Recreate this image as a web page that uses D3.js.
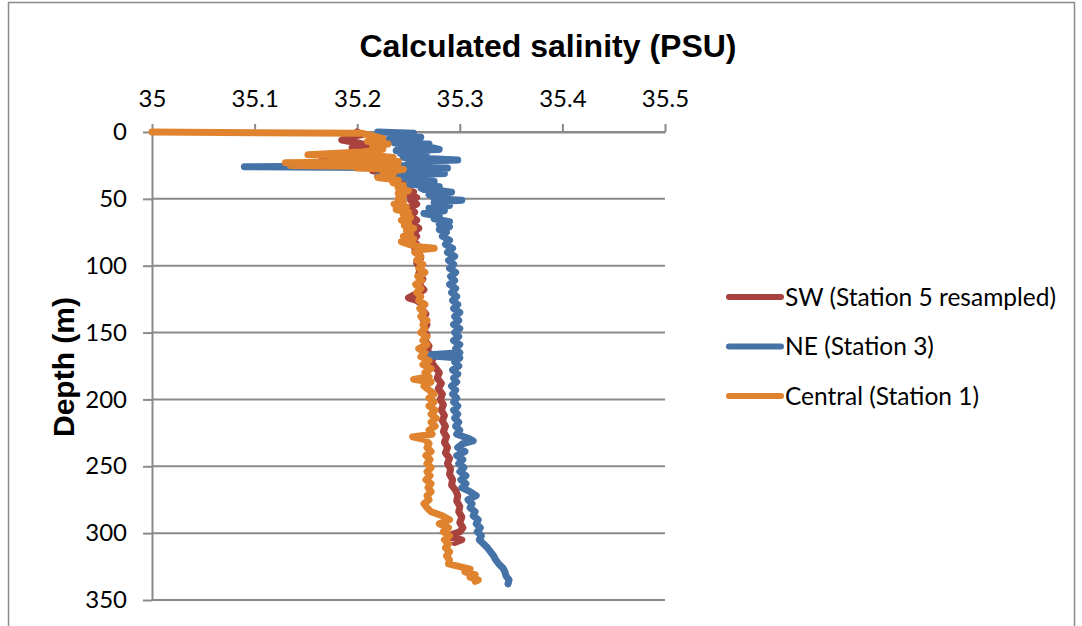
<!DOCTYPE html>
<html>
<head>
<meta charset="utf-8">
<script src="https://cdn.jsdelivr.net/npm/d3@7"></script>
<style>
  html, body { margin: 0; padding: 0; background: #fff; }
  svg { display: block; }
</style>
</head>
<body>
<svg id="chart" width="1082" height="626"></svg>
<script>
// Salinity profiles: depth (m) and calculated salinity (PSU) per station
const swDepth = [0,2,4,6,8,10,12,14,16,18,19,21,23,25,27,29,31,33,35,37,39,41,43,45,47,49,51,54,57,60,63,66,69,72,75,78,81,84,87,90,94,98,102,106,110,114,118,122,124,126,129,132,136,140,144,148,152,156,160,164,168,172,176,180,184,188,192,196,200,204,208,212,216,220,224,228,232,236,240,244,248,252,256,260,264,268,272,276,280,284,288,292,296,299,301,303,305,307];
const swSal = [35.200,35.205,35.190,35.185,35.200,35.210,35.195,35.215,35.200,35.165,35.210,35.220,35.205,35.225,35.230,35.215,35.235,35.240,35.232,35.245,35.240,35.250,35.245,35.255,35.250,35.258,35.252,35.258,35.250,35.256,35.252,35.258,35.254,35.260,35.255,35.258,35.254,35.258,35.256,35.260,35.262,35.258,35.262,35.260,35.264,35.260,35.265,35.255,35.250,35.258,35.264,35.262,35.267,35.264,35.268,35.265,35.268,35.266,35.270,35.268,35.275,35.272,35.276,35.280,35.278,35.282,35.279,35.283,35.281,35.284,35.282,35.285,35.283,35.286,35.284,35.287,35.285,35.288,35.286,35.290,35.288,35.291,35.290,35.293,35.292,35.296,35.298,35.297,35.300,35.299,35.302,35.300,35.303,35.300,35.292,35.290,35.302,35.295];

const neDepth = [0,1,2,3,4,5,6,7,8,9,10,11,12,13,14,15,16,17,18,19,20,21,22,23,24,25,26,27,28,29,30,31,32,33,34,35,36,37,38,39,40,41,42,43,44,45,46,47,48,49,50,51,52,53,55,57,59,61,63,65,67,69,71,73,75,78,81,84,87,90,93,96,99,102,105,108,111,114,117,120,123,126,129,132,135,138,141,144,147,150,153,156,159,162,165,167,169,172,175,178,181,184,187,190,193,196,199,202,205,208,211,214,217,220,223,226,229,231,233,236,239,242,245,248,251,254,257,260,263,266,269,272,275,278,281,284,287,290,293,296,299,302,305,308,311,314,317,320,323,326,329,332,335,338];
const neSal = [35.220,35.255,35.232,35.240,35.262,35.245,35.228,35.258,35.236,35.270,35.250,35.240,35.275,35.280,35.238,35.268,35.242,35.265,35.250,35.245,35.272,35.298,35.255,35.250,35.262,35.260,35.090,35.288,35.248,35.235,35.262,35.285,35.255,35.220,35.245,35.260,35.268,35.275,35.258,35.250,35.270,35.280,35.262,35.265,35.282,35.292,35.272,35.270,35.288,35.285,35.275,35.302,35.282,35.275,35.290,35.270,35.285,35.265,35.280,35.275,35.290,35.280,35.290,35.280,35.287,35.283,35.290,35.286,35.293,35.288,35.295,35.289,35.294,35.290,35.296,35.291,35.295,35.290,35.296,35.292,35.297,35.293,35.298,35.294,35.300,35.295,35.299,35.294,35.300,35.295,35.299,35.294,35.300,35.296,35.300,35.264,35.300,35.295,35.299,35.293,35.298,35.294,35.297,35.292,35.296,35.293,35.297,35.294,35.298,35.294,35.298,35.295,35.299,35.296,35.300,35.297,35.308,35.313,35.303,35.298,35.305,35.297,35.303,35.299,35.304,35.300,35.306,35.301,35.306,35.302,35.310,35.316,35.308,35.312,35.310,35.315,35.313,35.318,35.316,35.320,35.317,35.321,35.319,35.323,35.327,35.330,35.333,35.335,35.338,35.342,35.344,35.345,35.348,35.347];

const ctDepth = [0,1,3,5,7,9,11,13,15,17,18,19,20,22,23,24,25,26,27,28,30,32,34,36,38,40,42,44,46,48,50,52,54,56,58,60,62,64,66,68,70,72,74,76,78,80,82,84,86,87,88,90,93,96,99,102,105,108,111,114,117,120,123,126,129,132,135,138,141,144,147,150,153,156,159,162,165,168,171,174,177,180,183,185,187,190,193,196,199,202,205,208,211,214,217,220,223,226,228,230,233,236,239,242,245,248,251,254,257,260,263,266,269,272,275,278,281,284,287,290,293,296,299,302,305,308,311,314,317,320,323,325,327,329,331,333,335,336];
const ctSal = [35.000,35.205,35.215,35.225,35.210,35.230,35.215,35.225,35.205,35.152,35.220,35.235,35.210,35.240,35.130,35.235,35.135,35.240,35.200,35.245,35.225,35.235,35.220,35.240,35.235,35.245,35.240,35.250,35.240,35.245,35.240,35.245,35.236,35.248,35.238,35.250,35.245,35.252,35.243,35.250,35.246,35.255,35.248,35.252,35.245,35.255,35.243,35.250,35.262,35.275,35.260,35.256,35.262,35.258,35.264,35.260,35.266,35.259,35.263,35.257,35.262,35.258,35.262,35.260,35.266,35.261,35.265,35.262,35.268,35.264,35.266,35.262,35.268,35.264,35.268,35.260,35.266,35.262,35.270,35.264,35.272,35.266,35.270,35.255,35.272,35.265,35.270,35.275,35.270,35.275,35.270,35.276,35.272,35.277,35.272,35.276,35.270,35.273,35.254,35.266,35.270,35.268,35.272,35.267,35.271,35.268,35.272,35.268,35.271,35.267,35.272,35.269,35.272,35.268,35.270,35.265,35.268,35.272,35.283,35.290,35.280,35.289,35.284,35.290,35.285,35.289,35.286,35.290,35.287,35.290,35.289,35.300,35.310,35.305,35.315,35.310,35.318,35.315];

const seriesNames = ["SW (Station 5 resampled)", "NE (Station 3)", "Central (Station 1)"];
const seriesColors = ["#a8423f", "#4572a7", "#e0832f"];
const xTickValues = [35, 35.1, 35.2, 35.3, 35.4, 35.5];
const xTickLabels = ["35", "35.1", "35.2", "35.3", "35.4", "35.5"];
const yTickValues = [0, 50, 100, 150, 200, 250, 300, 350];

const series = [
  { name: seriesNames[0], color: seriesColors[0], pts: swDepth.map((d, i) => ({ d, s: swSal[i] })) },
  { name: seriesNames[1], color: seriesColors[1], pts: neDepth.map((d, i) => ({ d, s: neSal[i] })) },
  { name: seriesNames[2], color: seriesColors[2], pts: ctDepth.map((d, i) => ({ d, s: ctSal[i] })) }
];

const svg = d3.select("#chart");
const plot = { left: 152, right: 665, top: 132, bottom: 600 };
const gridColor = "#8a8a8a";
const tickFont = "Lato, 'Open Sans', sans-serif";

// outer chart frame
svg.append("rect")
  .attr("x", 8.5).attr("y", 2.5).attr("width", 1066).attr("height", 700)
  .attr("fill", "none").attr("stroke", gridColor).attr("stroke-width", 1.5);

const x = d3.scaleLinear().domain([35, 35.5]).range([plot.left, plot.right]);
const y = d3.scaleLinear().domain([0, 350]).range([plot.top, plot.bottom]);

// horizontal gridlines
svg.append("g").selectAll("line").data(yTickValues).join("line")
  .attr("x1", plot.left).attr("x2", plot.right)
  .attr("y1", d => y(d)).attr("y2", d => y(d))
  .attr("stroke", gridColor).attr("stroke-width", 2);

// top salinity axis
const xAxis = svg.append("g").attr("transform", `translate(0,${plot.top})`)
  .call(d3.axisTop(x).tickValues(xTickValues)
    .tickFormat((d, i) => xTickLabels[i]).tickSize(8).tickSizeOuter(0).tickPadding(17));
xAxis.select(".domain").attr("stroke", gridColor).attr("stroke-width", 2);
xAxis.selectAll(".tick line").attr("stroke", gridColor).attr("stroke-width", 2);
xAxis.selectAll("text").attr("font-family", tickFont).attr("font-size", 24).attr("fill", "#000");

// left depth axis
const yAxis = svg.append("g").attr("transform", `translate(${plot.left},0)`)
  .call(d3.axisLeft(y).tickValues(yTickValues).tickSize(9).tickSizeOuter(0).tickPadding(16));
yAxis.select(".domain").attr("stroke", gridColor).attr("stroke-width", 2);
yAxis.selectAll(".tick line").attr("stroke", gridColor).attr("stroke-width", 2);
yAxis.selectAll("text").attr("font-family", tickFont).attr("font-size", 24).attr("fill", "#000");

// salinity profiles
const line = d3.line().x(p => x(p.s)).y(p => y(p.d));
svg.append("g").selectAll("path").data(series).join("path")
  .attr("d", s => line(s.pts))
  .attr("fill", "none")
  .attr("stroke", s => s.color)
  .attr("stroke-width", 7)
  .attr("stroke-linejoin", "round")
  .attr("stroke-linecap", "round");

// title
svg.append("text")
  .attr("x", 548).attr("y", 57).attr("text-anchor", "middle")
  .attr("font-family", "'Liberation Sans', Arial, sans-serif")
  .attr("font-weight", "bold").attr("font-size", 32)
  .text("Calculated salinity (PSU)");

// depth axis title
svg.append("text")
  .attr("transform", "translate(74,367) rotate(-90)")
  .attr("text-anchor", "middle")
  .attr("font-family", "'Liberation Sans', Arial, sans-serif")
  .attr("font-weight", "bold").attr("font-size", 30)
  .text("Depth (m)");

// legend
const legend = svg.append("g").selectAll("g").data(series).join("g")
  .attr("transform", (s, i) => `translate(727,${297 + i * 49.5})`);
legend.append("line")
  .attr("x1", 2).attr("x2", 54).attr("y1", 0).attr("y2", 0)
  .attr("stroke", s => s.color).attr("stroke-width", 6).attr("stroke-linecap", "round");
legend.append("text")
  .attr("x", 58).attr("y", 0).attr("dy", "0.35em")
  .attr("font-family", tickFont).attr("font-size", 24.5)
  .text(s => s.name);
</script>
</body>
</html>
